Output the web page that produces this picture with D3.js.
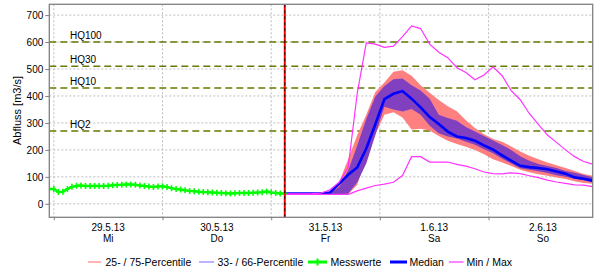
<!DOCTYPE html>
<html><head><meta charset="utf-8">
<script src="https://cdn.jsdelivr.net/npm/d3@7"></script>
<style>
body{margin:0;background:#fff}
svg{display:block}
text{font-family:"Liberation Sans",Arial,sans-serif}
</style></head>
<body><svg id="c" width="600" height="273"></svg>
<script>
// ---- data ----
const dayLabels = ["29.5.13","30.5.13","31.5.13","1.6.13","2.6.13"];
const weekdays = ["Mi","Do","Fr","Sa","So"];
const yTicks = [0,100,200,300,400,500,600,700];
const hqNames = ["HQ100","HQ30","HQ10","HQ2"];
const hqLevels = [600,510,430,270];
// Messwerte: hourly from 28.5.13 23:00
const measured = [55,55,44,45,55,63,67,68,66,66,66,66,66,67,69,70,71,72,72,71,68,66,64,62,64,65,62,58,55,53,50,48,47,45,44,43,42,41,40,39,38,39,40,40,40,41,42,43,46,42,40,38,38];
// forecast: hours after 31.5.13 00:00
const fcHours = [3,5,7,9,11,13,15,17,19,21,23,25,27,29,31,33,35,37,39,41,43,45,47,49,51,53,55,57,59,61,63,65,67,69,71];
const p75 = [38,38,38,38,38,40,80,165,255,330,415,450,490,495,475,440,412,385,362,343,310,281,258,240,230,213,194,178,165,153,143,133,122,111,104];
const p25 = [36,36,36,36,36,36,36,36,70,170,257,330,340,320,276,278,272,252,234,222,212,200,184,165,153,140,126,117,110,104,98,92,84,77,74];
const p66 = [38,38,38,38,38,40,62,124,216,315,398,437,462,465,440,420,390,330,318,308,285,268,252,235,218,200,176,160,148,140,133,122,115,107,99];
const p33 = [36,36,36,36,36,36,36,37,80,150,255,360,350,342,352,330,290,262,250,242,230,219,202,188,167,150,132,126,121,114,106,100,93,87,79];
const median = [38,38,38,38,38,42,75,108,135,205,295,388,408,418,390,358,322,296,268,250,244,234,217,201,180,160,141,136,133,128,120,112,98,93,86];
const maxV = [37,37,37,38,40,52,80,135,410,597,592,580,585,620,660,650,592,562,542,505,487,460,478,508,475,420,386,335,295,255,228,200,175,157,147];
const minV = [35,35,35,35,35,35,35,35,48,58,68,73,80,105,175,175,155,155,155,146,140,130,118,112,111,115,112,104,97,88,81,76,70,69,64];

// ---- setup ----
const svg = d3.select("#c");
const L = 49.3, R = 592.7, T = 4.3, B = 217.3;
const x = d3.scaleUtc()
  .domain([new Date(Date.UTC(2013,4,28,23)), new Date(Date.UTC(2013,5,2,23))])
  .range([L, R]);
const y = d3.scaleLinear().domain([-50,740]).range([B, T]);

const measData = measured.map((v,i)=>({t:new Date(Date.UTC(2013,4,28,23+i)), v}));
const fcBase = Date.UTC(2013,4,31,0);
const fc = fcHours.map((h,i)=>({t:new Date(fcBase+h*3600e3), p25:p25[i], p75:p75[i], p33:p33[i], p66:p66[i], med:median[i], mn:minV[i], mx:maxV[i]}));

svg.append("clipPath").attr("id","clip").append("rect")
  .attr("x",L).attr("y",T).attr("width",R-L).attr("height",B-T);

// grid
const midnights = d3.utcDay.range(new Date(Date.UTC(2013,4,29)), new Date(Date.UTC(2013,5,3)));
const grid = svg.append("g").attr("clip-path","url(#clip)");
grid.selectAll(".hg").data(yTicks).join("line")
  .attr("x1",L).attr("x2",R).attr("y1",d=>y(d)).attr("y2",d=>y(d))
  .attr("stroke","#bdbdbd").attr("stroke-dasharray","2,2");
grid.selectAll(".vg").data(midnights).join("line")
  .attr("x1",d=>x(d)).attr("x2",d=>x(d)).attr("y1",T).attr("y2",B)
  .attr("stroke","#bdbdbd").attr("stroke-dasharray","2,2");

// HQ lines
const hq = svg.append("g");
hqLevels.forEach((v,i)=>{
  hq.append("line").attr("x1",L).attr("x2",R).attr("y1",y(v)).attr("y2",y(v))
    .attr("stroke","#667a00").attr("stroke-width",1.5).attr("stroke-dasharray","7,4");
  hq.append("text").attr("x",70).attr("y",y(v)-3).attr("font-size",10).attr("fill","#000").text(hqNames[i]);
});

const plot = svg.append("g").attr("clip-path","url(#clip)");
// bands
plot.append("path").datum(fc)
  .attr("d", d3.area().x(d=>x(d.t)).y0(d=>y(d.p25)).y1(d=>y(d.p75)))
  .attr("fill","#ff8080");
plot.append("path").datum(fc)
  .attr("d", d3.area().x(d=>x(d.t)).y0(d=>y(d.p33)).y1(d=>y(d.p66)))
  .attr("fill","#8040c0");
// median
plot.append("path").datum(fc).attr("d", d3.line().x(d=>x(d.t)).y(d=>y(d.med)))
  .attr("fill","none").attr("stroke","#0000ff").attr("stroke-width",2.6);
// min / max
plot.append("path").datum(fc).attr("d", d3.line().x(d=>x(d.t)).y(d=>y(d.mx)))
  .attr("fill","none").attr("stroke","#ff33ff").attr("stroke-width",1.2);
plot.append("path").datum(fc).attr("d", d3.line().x(d=>x(d.t)).y(d=>y(d.mn)))
  .attr("fill","none").attr("stroke","#ff33ff").attr("stroke-width",1.2);
// measured
plot.append("path").datum(measData).attr("d", d3.line().x(d=>x(d.t)).y(d=>y(d.v)))
  .attr("fill","none").attr("stroke","#00ff00").attr("stroke-width",2.5);
plot.selectAll(".mk").data(measData).join("path")
  .attr("d", d=>{const cx=x(d.t), cy=y(d.v); return `M${cx-2.5},${cy}H${cx+2.5}M${cx},${cy-3}V${cy+3}`;})
  .attr("stroke","#00ff00").attr("stroke-width",1.6);

// now line
const nowT = new Date(Date.UTC(2013,4,31,3));
svg.append("line").attr("x1",x(nowT)).attr("x2",x(nowT)).attr("y1",T).attr("y2",B)
  .attr("stroke","#ff0000").attr("stroke-width",2);
svg.append("line").attr("x1",x(nowT)).attr("x2",x(nowT)).attr("y1",T).attr("y2",B)
  .attr("stroke","#000").attr("stroke-width",0.8).attr("stroke-dasharray","3,3");

// frame
svg.append("rect").attr("x",L).attr("y",T).attr("width",R-L).attr("height",B-T)
  .attr("fill","none").attr("stroke","#808080").attr("stroke-width",1.3);

// y axis
const ya = svg.append("g").attr("transform",`translate(${L},0)`)
  .call(d3.axisLeft(y).tickValues(yTicks).tickSize(4).tickPadding(2));
ya.select(".domain").remove();
ya.selectAll(".tick line").attr("stroke","#808080");
ya.selectAll(".tick text").attr("font-size",10).attr("fill","#000").attr("font-family","Liberation Sans, Arial, sans-serif");

// x axis ticks
const xa = svg.append("g").attr("transform",`translate(0,${B})`)
  .call(d3.axisBottom(x).tickValues(midnights.filter(d=>x(d)<=R)).tickSize(3).tickFormat(""));
xa.select(".domain").remove();
xa.selectAll(".tick line").attr("stroke","#808080");

// x labels at noon
const noons = dayLabels.map((s,i)=>new Date(Date.UTC(2013,4,29+i,12)));
const xl = svg.append("g");
noons.forEach((d,i)=>{
  xl.append("text").attr("x",x(d)).attr("y",230.5).attr("text-anchor","middle").attr("font-size",10).text(dayLabels[i]);
  xl.append("text").attr("x",x(d)).attr("y",242).attr("text-anchor","middle").attr("font-size",10).text(weekdays[i]);
});

// y title
svg.append("text").attr("transform","translate(21,110.5) rotate(-90)")
  .attr("text-anchor","middle").attr("font-size",11).text("Abfluss [m3/s]");

// legend
const ly = 262;
const lg = svg.append("g").attr("font-size",10.5);
const items = [
  {name:"25- / 75-Percentile", x1:88, x2:101, tx:105.5, color:"#ff8080", w:1.2},
  {name:"33- / 66-Percentile", x1:199, x2:214, tx:217.5, color:"#8c80ff", w:1.2},
  {name:"Messwerte", x1:308, x2:327, tx:330.5, color:"#00ff00", w:3, marker:true},
  {name:"Median", x1:390, x2:407, tx:409.5, color:"#0000ff", w:3},
  {name:"Min / Max", x1:449, x2:463.5, tx:466.5, color:"#ff33ff", w:1.2}
];
items.forEach(it=>{
  lg.append("line").attr("x1",it.x1).attr("x2",it.x2).attr("y1",ly).attr("y2",ly)
    .attr("stroke",it.color).attr("stroke-width",it.w);
  if(it.marker){
    const cx=(it.x1+it.x2)/2;
    lg.append("path").attr("d",`M${cx-3},${ly}H${cx+3}M${cx},${ly-3.5}V${ly+3.5}`)
      .attr("stroke",it.color).attr("stroke-width",2);
  }
  lg.append("text").attr("x",it.tx).attr("y",ly+4).text(it.name);
});
</script></body></html>
